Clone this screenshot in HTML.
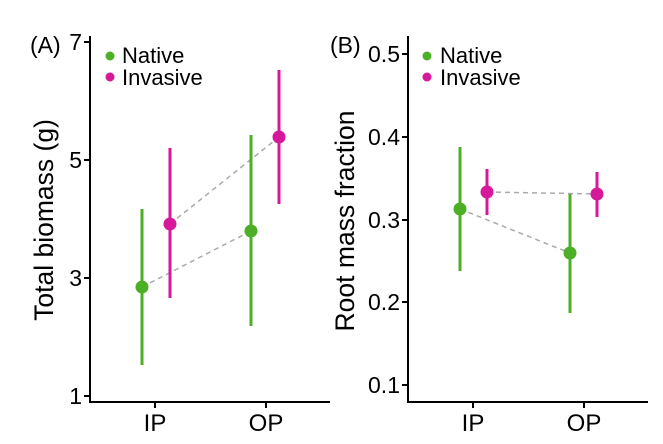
<!DOCTYPE html>
<html><head><style>body{margin:0;background:#fff}svg{display:block;font-family:"Liberation Sans",sans-serif}</style></head><body>
<svg width="663" height="444" viewBox="0 0 663 444">
<g stroke="#000" stroke-width="2" fill="none">
<path d="M90,36V402H330"/><path d="M84,42H90M84,160H90M84,278H90M84,396H90M155,402V408M266,402V408"/>
<path d="M408,36V402H648"/><path d="M402,54H408M402,137H408M402,220H408M402,302H408M402,385H408M473,402V408M584,402V408"/>
</g>
<g font-size="23" fill="#000" text-anchor="end">
<text x="82" y="50">7</text><text x="82" y="168">5</text><text x="82" y="286">3</text><text x="82" y="404">1</text>
<text x="400" y="62">0.5</text><text x="400" y="145">0.4</text><text x="400" y="228">0.3</text><text x="400" y="310">0.2</text><text x="400" y="393">0.1</text>
</g>
<g font-size="24" text-anchor="middle"><text x="155" y="431">IP</text><text x="266" y="431">OP</text><text x="473" y="431">IP</text><text x="584" y="431">OP</text></g>
<text x="30" y="53" font-size="23">(A)</text><text x="330" y="53" font-size="23">(B)</text>
<text transform="translate(53,220) rotate(-90)" font-size="26.5" text-anchor="middle">Total biomass (g)</text>
<text transform="translate(354,221) rotate(-90)" font-size="26.5" text-anchor="middle">Root mass fraction</text>
<g font-size="22"><text x="122" y="63">Native</text><text x="122" y="85">Invasive</text><text x="440" y="63">Native</text><text x="440" y="85">Invasive</text></g>
<g stroke="#aaa" stroke-width="1.5" stroke-dasharray="5,4"><path d="M142,287L251,231M170,224L279,137M460,209L570,253M487,192L597,194"/></g>
<g stroke="#4caf25" stroke-width="3"><path d="M142,209V365M251,135V326M460,147V271M570,194V313"/></g>
<g stroke="#d6199a" stroke-width="3"><path d="M170,148V298M279,70V204M487,169V215M597,172V217"/></g>
<g fill="#4caf25"><circle cx="142" cy="287" r="6.5"/><circle cx="251" cy="231" r="6.5"/><circle cx="460" cy="209" r="6.5"/><circle cx="570" cy="253" r="6.5"/><circle cx="110" cy="56" r="4.5"/><circle cx="427" cy="56" r="4.5"/></g>
<g fill="#d6199a"><circle cx="170" cy="224" r="6.5"/><circle cx="279" cy="137" r="6.5"/><circle cx="487" cy="192" r="6.5"/><circle cx="597" cy="194" r="6.5"/><circle cx="110" cy="77" r="4.5"/><circle cx="427" cy="77" r="4.5"/></g>
</svg></body></html>
